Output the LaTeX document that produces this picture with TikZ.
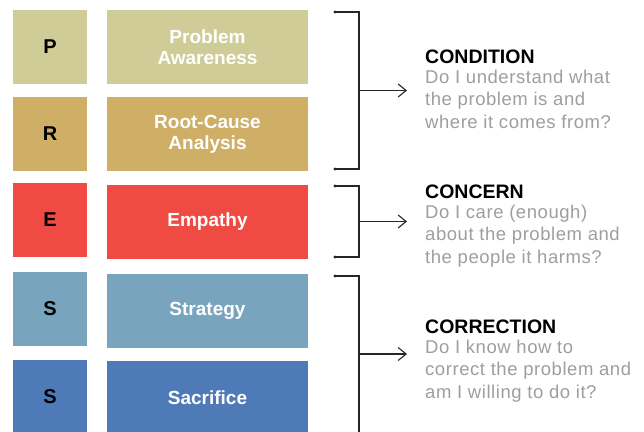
\documentclass[tikz,border=0pt]{standalone}
\usepackage{fontspec}
\setmainfont{Liberation Sans}
\newfontfamily\askfont[LetterSpace=3]{Liberation Sans}
\usepackage{tikz}
\usetikzlibrary{shapes,arrows,arrows.meta}
\definecolor{pcolor}{RGB}{208,204,151}
\definecolor{rcolor}{RGB}{207,174,102}
\definecolor{ecolor}{RGB}{239,75,67}
\definecolor{scolor}{RGB}{120,165,189}
\definecolor{sacolor}{RGB}{78,123,183}
\definecolor{askgray}{RGB}{158,158,158}
\tikzstyle{letter}=[minimum width=74pt, minimum height=74pt, inner sep=0pt,
    font=\fontsize{20}{22}\selectfont\bfseries, text=black]
\tikzstyle{stage}=[minimum width=201pt, minimum height=74pt, inner sep=0pt,
    align=center, font=\fontsize{19}{21}\selectfont\bfseries, text=white]
\tikzstyle{heading}=[anchor=base west, inner sep=0pt,
    font=\fontsize{19.5}{22}\selectfont\bfseries]
\tikzstyle{ask}=[anchor=base west, inner sep=0pt, align=left, text=askgray,
    font=\fontsize{18.5}{22.5}\askfont]
\tikzstyle{bracket}=[line width=1.1pt, black!85]
\tikzstyle{pointer}=[bracket, -{Straight Barb[length=8pt,width=13pt]}]

\begin{document}
\begin{tikzpicture}[x=1pt,y=-1pt]
\useasboundingbox (0,0) rectangle (644,431);
\clip (0,0) rectangle (644,431);
% P
\path (50,47) node [letter, fill=pcolor] (P) {P};
\path (207.5,47) node [stage, fill=pcolor] (Pb) {Problem\\Awareness};
% R
\path (50,134) node [letter, fill=rcolor] (R) {R};
\path (207.5,134) node [stage, fill=rcolor] (Rb) {Root-Cause\\Analysis};
% E
\path (50,220) node [letter, fill=ecolor] (E) {E};
\path (207.5,222) node [stage, fill=ecolor] (Eb) {Empathy};
% S
\path (50,309) node [letter, fill=scolor] (S1) {S};
\path (207.5,311) node [stage, fill=scolor] (S1b) {Strategy};
% S
\path (50,397) node [letter, fill=sacolor] (S2) {S};
\path (207.5,398) node [stage, fill=sacolor] (S2b) {Sacrifice};
% brackets
\coordinate (b1t) at (335,12);
\coordinate (b1m) at (359,90.5);
\coordinate (b1b) at (335,169);
\coordinate (b2t) at (335,186);
\coordinate (b2m) at (359,221.5);
\coordinate (b2b) at (335,257);
\coordinate (b3t) at (335,276);
\coordinate (b3m) at (359,354);
\coordinate (b3b) at (335,440);
\draw [bracket] (b1t) -| (b1m) |- (b1b);
\draw [bracket] (b2t) -| (b2m) |- (b2b);
\draw [bracket] (b3t) -| (b3m) |- (b3b);
\foreach \c in {b1t,b1b,b2t,b2b,b3t}
  \fill [black!85] (\c) circle (1.6pt);
% Condition (ask text placed at its last baseline)
\path (425,63) node [heading] (cond) {CONDITION};
\path (425,128) node [ask] (condq) {Do I understand what\\the problem is and\\where it comes from?};
% Concern
\path (425,198) node [heading] (conc) {CONCERN};
\path (425,263) node [ask] (concq) {Do I care (enough)\\about the problem and\\the people it harms?};
% Correction
\path (425,333) node [heading] (corr) {CORRECTION};
\path (425,398) node [ask] (corrq) {Do I know how to\\correct the problem and\\am I willing to do it?};
% arrows
\coordinate (a1) at (407,90.5);
\coordinate (a2) at (407,221.5);
\coordinate (a3) at (407,354);
\draw [pointer] (b1m) -- (a1);
\draw [pointer] (b2m) -- (a2);
\draw [pointer] (b3m) -- (a3);
\end{tikzpicture}
\end{document}
